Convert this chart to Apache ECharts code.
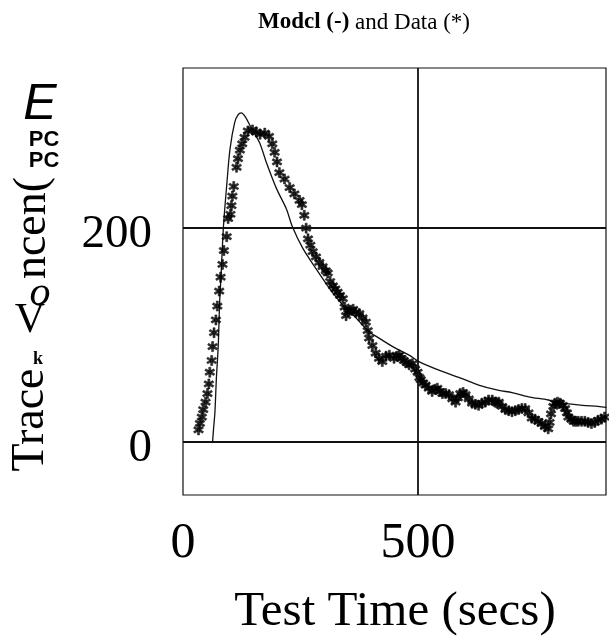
<!DOCTYPE html>
<html>
<head>
<meta charset="utf-8">
<script src="https://cdn.jsdelivr.net/npm/echarts@6/dist/echarts.min.js"></script>
<style>
  html, body { margin: 0; padding: 0; background: #fff; }
  #chart { width: 609px; height: 641px; }
</style>
</head>
<body>
<div id="chart"></div>
<script>
// model curve (x secs, concentration)
var modelPoints = [
  [63, 0], [65, 12], [68, 28], [71, 59], [75, 90], [78, 131], [81, 156], [86, 201],
  [93, 240], [100, 274], [110, 299], [117, 306], [124, 308], [133, 304], [145, 294],
  [163, 280], [177, 262], [199, 237], [220, 218], [233, 201], [255, 181], [283, 162],
  [311, 144], [340, 128], [370, 115], [396, 103], [417, 97], [450, 88], [481, 81],
  [502, 75], [550, 66], [594, 59], [629, 53], [672, 48], [700, 46], [735, 42],
  [777, 39], [792, 37], [850, 34], [883, 33], [901, 32]
];

// measured data (asterisks)
var dataPoints = [
  [33, 11], [36, 17], [40, 23], [43, 30], [48, 37], [52, 45], [55, 54], [57, 65],
  [61, 76], [63, 89], [66, 102], [70, 114], [73, 127], [77, 141], [80, 154], [84, 166],
  [87, 179], [93, 192], [96, 209], [101, 213], [103, 221], [105, 230], [108, 239],
  [114, 257], [117, 265], [121, 273], [126, 279], [131, 285], [138, 291], [148, 292],
  [156, 290], [164, 288], [174, 289], [183, 286], [190, 279], [195, 271], [200, 262],
  [205, 252], [216, 246], [227, 238], [237, 232], [248, 226], [253, 222], [258, 212],
  [262, 200], [266, 190], [271, 184], [276, 178], [283, 173], [290, 168], [297, 164],
  [304, 160], [308, 158], [313, 150], [319, 146], [324, 143], [329, 140], [334, 137],
  [340, 134], [344, 126], [347, 118], [352, 122], [357, 123], [362, 124], [368, 121],
  [375, 120], [382, 116], [389, 112], [393, 104], [396, 97], [403, 90], [410, 83],
  [417, 78], [424, 75], [432, 80], [439, 81], [449, 78], [455, 80], [460, 81],
  [465, 78], [470, 76], [476, 74], [481, 72], [488, 73], [494, 68], [499, 65],
  [503, 60], [506, 58], [511, 55], [516, 53], [523, 50], [530, 47], [536, 49],
  [541, 50], [547, 47], [552, 45], [559, 45], [566, 44], [573, 40], [580, 37],
  [585, 41], [590, 45], [596, 46], [601, 44], [608, 40], [615, 36], [622, 35],
  [629, 34], [636, 36], [643, 37], [650, 39], [658, 39], [664, 37], [668, 36],
  [672, 37], [679, 33], [686, 30], [693, 29], [700, 28], [707, 29], [714, 30],
  [721, 31], [728, 31], [735, 27], [742, 22], [749, 21], [756, 19], [763, 17],
  [770, 14], [777, 12], [780, 18], [783, 26], [788, 33], [792, 36], [797, 37],
  [802, 36], [808, 34], [813, 31], [817, 27], [820, 23], [826, 21], [831, 19],
  [836, 19], [841, 19], [848, 19], [855, 19], [862, 18], [869, 17], [876, 18],
  [883, 20], [890, 21], [897, 23], [901, 24]
];

var xTickLabels = [0, 500];
var yTickLabels = [0, 200];
var gridLinesY = [0, 200];
var gridLinesX = [500];

var serif = '"Liberation Serif", "Times New Roman", serif';
var sans = '"Liberation Sans", Arial, sans-serif';

// six-armed asterisk, fat arms like the scanned plot
var starPath = 'path://M-0.2,-1L0.2,-1L0.2,1L-0.2,1Z' +
  'M0.966,0.327L0.766,0.673L-0.966,-0.327L-0.766,-0.673Z' +
  'M-0.766,0.673L-0.966,0.327L0.766,-0.673L0.966,-0.327Z';

var markData = [];
gridLinesY.forEach(function (v) { markData.push({ yAxis: v }); });
gridLinesX.forEach(function (v) { markData.push({ xAxis: v }); });

var myChart = echarts.init(document.getElementById('chart'), null, { renderer: 'canvas' });

var option = {
  backgroundColor: '#fff',
  animation: false,
  grid: {
    left: 183, top: 68, right: 0, bottom: 146,
    show: true, borderColor: '#111', borderWidth: 1.2, backgroundColor: 'transparent'
  },
  xAxis: {
    type: 'value', min: 0, max: 900, interval: 100,
    axisLine: { show: false }, axisTick: { show: false }, splitLine: { show: false },
    axisLabel: {
      margin: 24, color: '#000', fontFamily: serif, fontSize: 50,
      showMaxLabel: true, showMinLabel: true,
      formatter: function (v) { return xTickLabels.indexOf(v) >= 0 ? String(v) : ''; }
    }
  },
  yAxis: {
    type: 'value', min: -50, max: 350, interval: 50,
    axisLine: { show: false }, axisTick: { show: false }, splitLine: { show: false },
    axisLabel: {
      margin: 31, color: '#000',
      formatter: function (v) { return yTickLabels.indexOf(v) >= 0 ? '{t|' + v + '}' : ''; },
      rich: { t: { fontFamily: serif, fontSize: 47, color: '#000', padding: [14, 0, 0, 0] } }
    }
  },
  series: [
    {
      name: 'Model',
      type: 'line',
      data: modelPoints,
      smooth: 0.3,
      showSymbol: false,
      lineStyle: { color: '#111', width: 1.3 },
      markLine: {
        silent: true, symbol: 'none', label: { show: false },
        lineStyle: { color: '#111', type: 'solid', width: 1.8 },
        data: markData
      },
      z: 3
    },
    {
      name: 'Data',
      type: 'scatter',
      data: dataPoints,
      symbol: starPath,
      symbolSize: 10,
      itemStyle: { color: '#000', borderColor: '#000', borderWidth: 0.6 },
      z: 4
    }
  ],
  graphic: [
    {
      type: 'text', left: 258, top: 11,
      style: {
        text: '{b|Modcl (-)} and Data (*)',
        font: '23px ' + serif, fill: '#000',
        rich: { b: { fontFamily: serif, fontSize: 23, fontWeight: 'bold' } }
      }
    },
    { type: 'text', x: 31, y: 420, rotation: Math.PI / 2,
      style: { text: 'Trace', font: '46px ' + serif, fill: '#000', align: 'center', verticalAlign: 'middle' } },
    { type: 'text', x: 38, y: 359,
      style: { text: 'k', font: 'bold 18px ' + serif, fill: '#000', align: 'center', verticalAlign: 'middle' } },
    { type: 'text', x: 30, y: 321,
      style: { text: 'V', font: '42px ' + serif, fill: '#000', align: 'center', verticalAlign: 'middle' } },
    { type: 'text', x: 40, y: 294,
      style: { text: 'o', font: 'italic 42px ' + serif, fill: '#000', align: 'center', verticalAlign: 'middle' } },
    { type: 'text', x: 33, y: 228, rotation: Math.PI / 2,
      style: { text: 'ncen(', font: '46px ' + serif, fill: '#000', align: 'center', verticalAlign: 'middle' } },
    { type: 'text', x: 44, y: 140,
      style: { text: 'PC', font: 'bold 22px ' + sans, fill: '#000', align: 'center', verticalAlign: 'middle' } },
    { type: 'text', x: 44, y: 161,
      style: { text: 'PC', font: 'bold 22px ' + sans, fill: '#000', align: 'center', verticalAlign: 'middle' } },
    { type: 'text', x: 40, y: 105,
      style: { text: 'E', font: 'italic 50px ' + sans, fill: '#000', align: 'center', verticalAlign: 'middle' } },
    { type: 'text', x: 395, y: 612,
      style: { text: 'Test Time (secs)', font: '49px ' + serif, fill: '#000', align: 'center', verticalAlign: 'middle' } }
  ]
};

myChart.setOption(option);
</script>
</body>
</html>
